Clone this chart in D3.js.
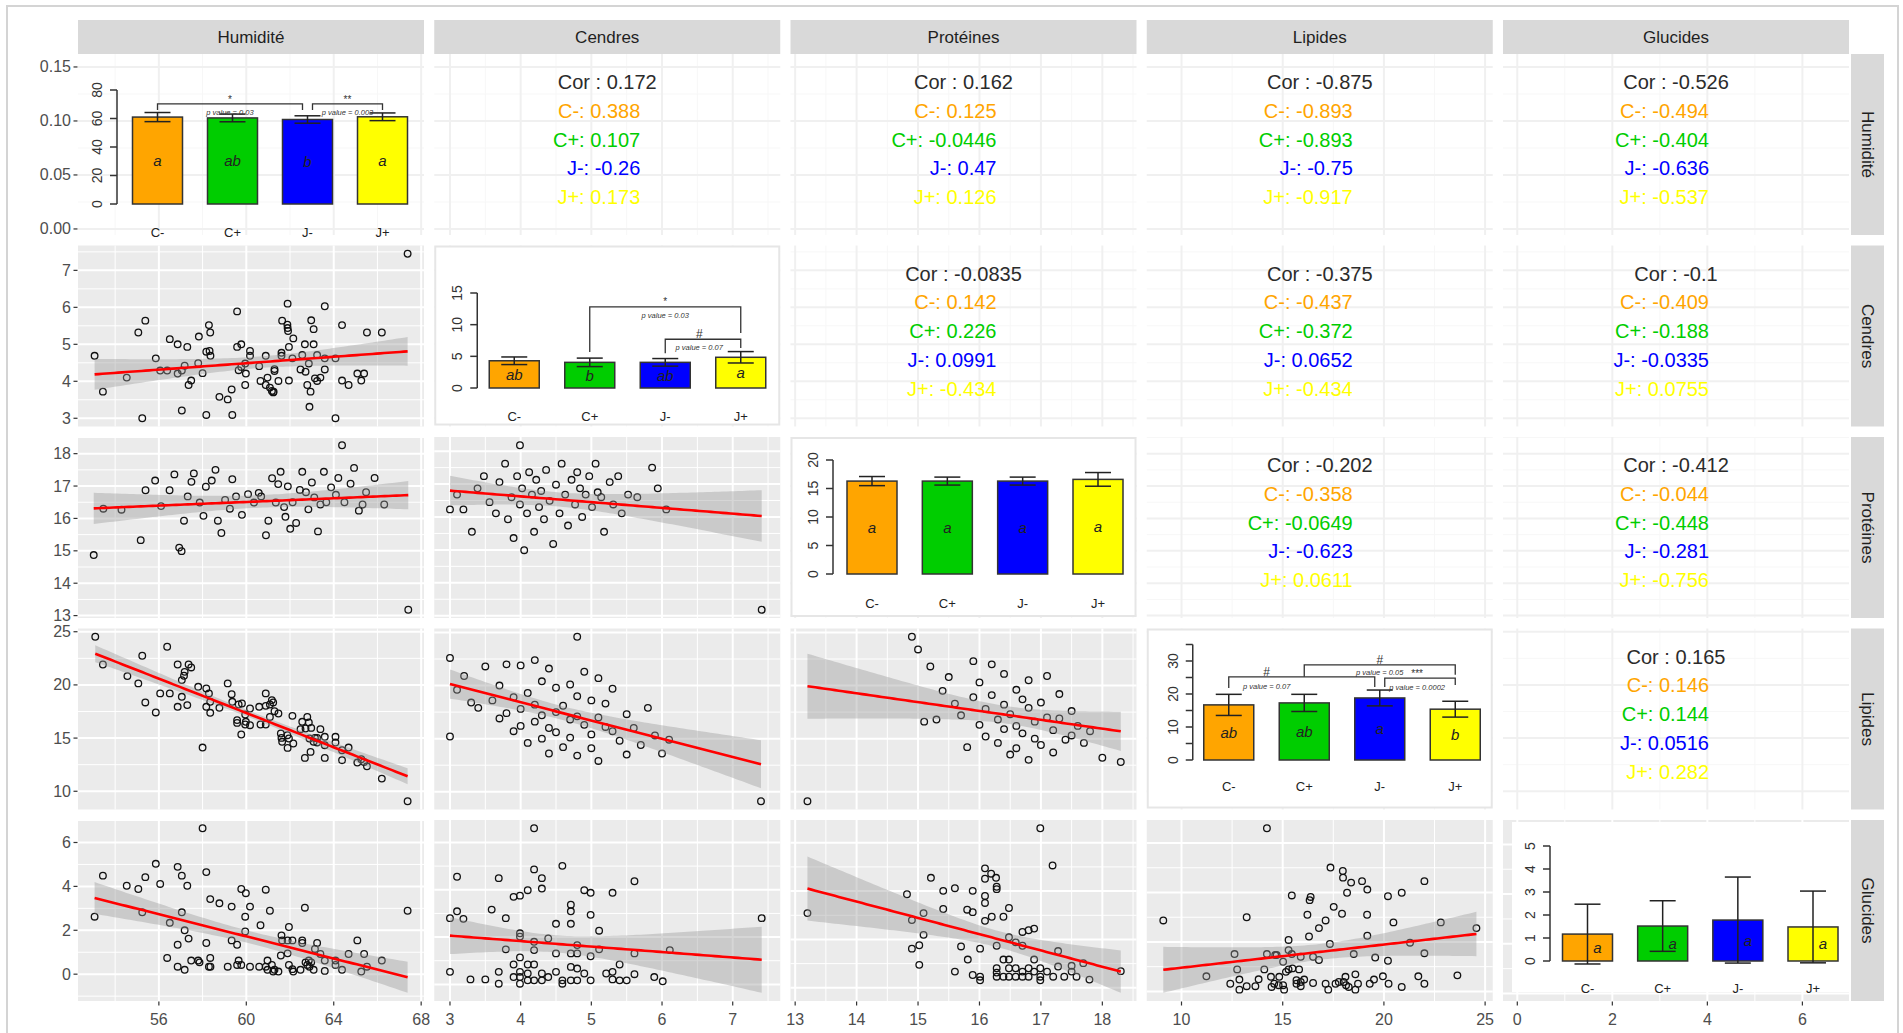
<!DOCTYPE html>
<html><head><meta charset="utf-8">
<script src="https://cdn.jsdelivr.net/npm/d3@7"></script>
<style>body{margin:0;background:#fff;}svg{display:block;font-family:"Liberation Sans",Arial,sans-serif;}</style>
</head><body><svg id="c" width="1903" height="1033"></svg>
<script>
// ---------------- DATA ----------------
const vars = ["Humidité","Cendres","Protéines","Lipides","Glucides"];
const groups = ["C-","C+","J-","J+"];
const groupColors = ["#FFA500","#00CD00","#0000FF","#FFFF00"];
const tickStep = {"Humidité":4,"Cendres":1,"Protéines":1,"Lipides":5,"Glucides":2};
const densityTicks = [0,0.05,0.10,0.15];

// scatter points [x, y]
const hum_cen = [[53.06,4.69],[53.44,3.72],[54.53,4.10],[55.06,5.32],[55.24,3.0],[55.38,5.64],[55.86,4.62],[56.06,4.29],[56.38,4.29],[56.5,5.14],[56.86,5.0],[56.86,4.21],[57.05,3.21],[57.05,4.29],[57.18,4.42],[57.3,4.93],[57.36,3.90],[57.48,4.02],[57.83,5.21],[57.8,4.49],[58.0,4.22],[58.17,3.09],[58.17,4.80],[58.29,5.52],[58.35,5.32],[58.32,4.82],[58.36,4.69],[58.77,3.58],[59.15,3.51],[59.33,3.78],[59.36,3.09],[59.58,5.89],[59.58,4.93],[59.65,4.30],[59.77,5.0],[59.77,4.39],[59.98,4.21],[59.95,3.90],[59.95,4.48],[60.17,4.82],[60.17,4.69],[60.59,4.41],[60.65,4.01],[60.89,4.69],[60.89,3.90],[60.97,4.10],[61.08,3.83],[61.17,3.74],[61.23,3.70],[61.29,4.28],[61.29,4.33],[61.25,3.72],[61.47,4.01],[61.61,4.77],[61.64,5.64],[61.61,4.69],[61.88,5.53],[61.89,5.44],[61.89,6.10],[61.91,5.36],[61.95,4.02],[61.95,4.93],[62.15,5.16],[62.11,4.62],[62.48,4.32],[62.56,4.71],[62.68,5.0],[62.71,4.26],[62.79,3.90],[62.86,4.48],[62.94,3.72],[62.89,3.31],[62.97,5.65],[63.08,5.41],[63.08,5.0],[63.14,4.08],[63.24,4.01],[63.24,4.71],[63.39,4.10],[63.59,6.03],[63.59,4.62],[63.59,4.32],[64.08,4.62],[64.08,3.0],[64.38,5.52],[64.38,4.02],[64.68,3.90],[65.08,4.21],[65.26,4.02],[65.39,4.21],[65.52,5.32],[66.2,5.32],[67.38,7.45]];
const hum_pro = [[53.02,14.87],[53.46,16.30],[54.29,16.27],[55.17,15.33],[55.39,16.87],[55.83,17.17],[56.1,16.38],[56.49,16.87],[56.71,17.36],[56.93,15.1],[57.04,14.99],[57.15,15.93],[57.32,16.68],[57.49,17.13],[57.6,17.39],[57.87,16.49],[58.04,16.08],[58.15,16.98],[58.42,17.17],[58.59,17.5],[58.7,15.93],[58.86,15.55],[59.03,16.57],[59.25,16.3],[59.36,17.21],[59.53,16.68],[59.8,16.11],[60.08,16.75],[60.35,16.49],[60.57,16.79],[60.68,16.68],[60.9,15.48],[61.01,15.93],[61.18,17.24],[61.35,16.49],[61.46,17.06],[61.57,17.44],[61.73,16.35],[61.79,16.05],[61.9,16.99],[62.01,15.68],[62.12,16.5],[62.28,15.86],[62.45,16.88],[62.56,17.44],[62.73,16.81],[62.84,16.28],[63.0,17.11],[63.11,16.65],[63.28,15.6],[63.39,16.43],[63.55,17.44],[63.66,16.5],[63.88,16.96],[64.1,16.73],[64.21,17.25],[64.38,18.26],[64.49,16.5],[64.77,17.07],[64.93,17.56],[65.15,16.24],[65.32,16.43],[65.48,16.81],[65.87,17.25],[66.31,16.43],[67.41,13.18]];
const hum_lip = [[53.09,24.53],[53.44,21.92],[54.56,20.83],[55.06,20.14],[55.24,22.74],[55.38,18.35],[55.86,17.41],[56.06,19.2],[56.38,23.59],[56.5,19.2],[56.86,21.92],[56.86,17.94],[57.05,18.88],[57.05,20.45],[57.18,21.23],[57.15,20.86],[57.3,18.10],[57.36,21.92],[57.48,21.64],[57.8,19.82],[58.0,14.11],[58.17,19.67],[58.17,17.94],[58.29,19.2],[58.35,17.38],[58.35,18.41],[58.77,17.85],[59.15,20.14],[59.33,19.13],[59.36,18.41],[59.58,16.69],[59.58,16.43],[59.65,18.16],[59.77,15.34],[59.8,18.25],[59.98,16.53],[59.95,17.22],[59.95,16.28],[60.17,17.78],[60.17,16.21],[60.59,17.94],[60.65,16.28],[60.89,19.2],[60.89,18.03],[60.89,16.28],[61.08,18.16],[61.17,18.57],[61.23,18.35],[61.29,17.53],[61.47,17.31],[61.08,16.99],[61.58,15.43],[61.61,15.02],[61.64,14.65],[61.88,15.27],[61.89,14.08],[61.95,14.96],[62.11,17.09],[62.15,14.49],[62.48,15.84],[62.56,16.53],[62.68,13.14],[62.71,15.90],[62.79,16.99],[62.86,16.47],[62.89,14.96],[62.94,13.70],[62.97,15.96],[63.08,14.65],[63.14,15.02],[63.24,15.02],[63.24,14.58],[63.39,15.84],[63.59,15.12],[63.59,13.14],[63.59,14.33],[64.08,15.12],[64.08,14.58],[64.38,13.86],[64.38,12.92],[64.68,14.11],[65.08,12.70],[65.26,13.01],[65.39,12.76],[65.52,12.35],[66.2,11.19],[67.38,9.06]];
const hum_glu = [[53.06,2.62],[53.44,4.49],[54.53,4.03],[55.06,3.88],[55.24,2.82],[55.38,4.42],[55.86,5.03],[56.06,4.11],[56.38,0.74],[56.5,2.34],[56.86,4.89],[56.86,1.34],[56.86,0.34],[57.05,4.49],[57.05,2.82],[57.18,2.0],[57.18,0.2],[57.3,4.03],[57.36,1.62],[57.48,0.62],[57.8,0.62],[57.86,0.54],[58.0,6.65],[58.17,4.65],[58.17,1.42],[58.29,0.34],[58.35,0.74],[58.35,3.42],[58.36,0.34],[58.77,3.23],[59.15,0.34],[59.33,3.08],[59.33,1.54],[59.58,1.34],[59.58,0.42],[59.65,0.62],[59.77,3.88],[59.77,0.42],[59.98,3.69],[59.95,2.62],[59.95,1.95],[60.17,3.08],[60.17,0.34],[60.59,0.34],[60.65,2.23],[60.89,3.85],[60.89,0.34],[60.97,0.62],[61.08,2.89],[60.97,0.2],[61.17,0.42],[61.23,0.12],[61.29,0.2],[61.47,0.12],[61.61,1.77],[61.64,1.54],[61.58,0.85],[61.89,1.54],[61.95,2.15],[61.89,0.95],[61.95,0.42],[62.11,1.54],[62.15,0.12],[62.11,0.23],[62.48,0.2],[62.56,1.54],[62.56,1.42],[62.68,3.03],[62.71,0.54],[62.79,0.42],[62.86,0.62],[62.89,0.34],[62.97,0.54],[63.08,0.2],[63.14,1.15],[63.24,1.42],[63.39,0.92],[63.59,0.15],[63.59,0.62],[64.08,0.42],[64.08,0.62],[64.38,0.2],[64.68,0.92],[65.08,1.54],[65.26,0.12],[65.39,0.92],[65.52,0.34],[66.2,0.62],[67.38,2.89]];
const cen_pro = [[3.0,16.23],[3.1,16.68],[3.19,16.23],[3.31,15.55],[3.39,16.87],[3.48,17.24],[3.56,16.45],[3.65,16.11],[3.7,17.06],[3.78,17.62],[3.82,15.93],[3.87,16.6],[3.9,15.36],[3.95,17.24],[3.99,18.18],[3.99,16.38],[4.02,16.87],[4.05,14.99],[4.09,16.11],[4.12,17.36],[4.16,16.68],[4.19,15.55],[4.22,17.13],[4.26,16.3],[4.29,16.79],[4.33,15.93],[4.36,17.43],[4.41,16.49],[4.46,15.18],[4.5,16.98],[4.55,16.11],[4.58,17.62],[4.63,16.68],[4.67,15.74],[4.72,17.13],[4.77,16.38],[4.8,17.36],[4.84,16.87],[4.87,16.0],[4.92,16.68],[4.97,17.24],[5.01,16.3],[5.06,17.62],[5.09,16.75],[5.14,16.6],[5.18,15.55],[5.26,17.06],[5.31,16.38],[5.38,17.24],[5.43,16.11],[5.52,16.68],[5.65,16.6],[5.86,17.5],[5.94,16.87],[6.06,16.23],[7.41,13.18]];
const cen_lip = [[3.0,22.6],[3.0,15.2],[3.1,19.6],[3.2,20.9],[3.3,18.4],[3.4,17.9],[3.5,21.8],[3.6,18.6],[3.7,16.9],[3.7,20.0],[3.8,22.0],[3.8,17.4],[3.9,18.9],[3.9,15.7],[4.0,21.9],[4.0,17.8],[4.0,16.2],[4.1,19.3],[4.1,14.6],[4.2,22.4],[4.2,18.2],[4.2,16.6],[4.3,20.4],[4.3,15.0],[4.3,17.2],[4.4,21.6],[4.4,16.0],[4.4,13.6],[4.5,19.8],[4.5,17.5],[4.5,15.6],[4.6,18.1],[4.6,14.2],[4.7,20.1],[4.7,16.8],[4.7,15.1],[4.8,24.6],[4.8,19.0],[4.8,17.1],[4.8,13.4],[4.9,21.3],[4.9,16.3],[5.0,18.6],[5.0,15.4],[5.0,14.1],[5.1,20.7],[5.1,17.0],[5.1,12.9],[5.2,16.1],[5.2,18.3],[5.3,15.7],[5.3,19.7],[5.4,14.8],[5.5,17.3],[5.5,13.5],[5.6,16.0],[5.7,14.4],[5.8,17.9],[5.9,15.3],[6.0,13.6],[6.1,14.9],[7.4,9.1]];
const cen_glu = [[3.0,2.80],[3.0,0.53],[3.1,4.55],[3.1,3.09],[3.19,2.77],[3.29,0.21],[3.5,0.21],[3.59,3.16],[3.69,4.49],[3.69,0.53],[3.69,0.03],[3.79,2.80],[3.79,1.48],[3.9,3.70],[3.9,0.84],[3.9,0.31],[3.99,3.75],[3.99,2.16],[3.99,2.02],[3.99,1.14],[3.99,0.53],[3.99,0.31],[3.99,0.03],[4.1,3.98],[4.1,0.84],[4.1,0.46],[4.1,0.17],[4.19,6.6],[4.19,4.86],[4.19,1.80],[4.19,1.45],[4.19,0.84],[4.19,0.17],[4.3,4.49],[4.3,4.05],[4.3,0.46],[4.3,0.17],[4.39,1.94],[4.39,0.31],[4.5,2.56],[4.5,1.31],[4.5,0.53],[4.59,5.01],[4.59,0.17],[4.59,0.03],[4.71,3.37],[4.71,3.09],[4.71,2.56],[4.71,1.31],[4.71,0.74],[4.71,0.17],[4.8,1.66],[4.8,1.31],[4.8,0.67],[4.8,0.17],[4.9,3.98],[4.9,0.46],[4.99,3.87],[4.99,2.94],[4.99,1.19],[4.99,0.17],[5.11,2.27],[5.11,1.48],[5.21,0.46],[5.3,3.87],[5.3,0.53],[5.3,0.21],[5.4,0.84],[5.4,0.17],[5.5,0.17],[5.61,4.36],[5.61,1.31],[5.61,0.43],[5.89,0.31],[6.01,0.13],[6.11,1.45],[7.41,2.80]];
const pro_lip = [[13.2,9.1],[14.9,24.6],[15.0,23.4],[15.1,16.6],[15.2,21.8],[15.3,16.8],[15.4,19.5],[15.5,20.8],[15.6,18.3],[15.7,17.2],[15.8,14.2],[15.9,22.3],[15.9,18.9],[16.0,16.3],[16.0,20.3],[16.1,17.8],[16.1,15.2],[16.2,22.0],[16.2,19.1],[16.3,16.8],[16.3,14.6],[16.4,21.1],[16.4,18.2],[16.4,15.9],[16.5,17.3],[16.5,13.5],[16.6,19.6],[16.6,16.2],[16.6,14.1],[16.7,18.7],[16.7,15.5],[16.8,17.9],[16.8,20.5],[16.8,13.0],[16.9,16.6],[16.9,15.0],[17.0,18.4],[17.0,14.4],[17.1,17.0],[17.1,20.9],[17.2,15.8],[17.2,13.7],[17.3,16.9],[17.3,19.2],[17.4,14.9],[17.5,17.6],[17.5,15.3],[17.6,16.2],[17.7,14.6],[17.8,15.7],[18.0,13.2],[18.3,12.8]];
const pro_glu = [[13.2,3.09],[14.82,3.87],[14.9,2.80],[14.9,1.62],[15.02,0.95],[15.02,1.76],[15.09,3.09],[15.09,2.19],[15.21,4.55],[15.41,4.01],[15.41,3.26],[15.6,4.12],[15.6,0.67],[15.7,1.71],[15.8,3.23],[15.81,1.17],[15.89,3.13],[15.89,4.01],[15.89,0.53],[16.01,1.62],[16.01,0.46],[16.01,0.31],[16.09,4.94],[16.09,4.51],[16.09,3.80],[16.09,3.51],[16.09,2.77],[16.19,4.72],[16.2,2.94],[16.27,4.55],[16.28,4.18],[16.28,4.08],[16.28,1.74],[16.28,0.81],[16.28,0.63],[16.28,0.46],[16.39,2.94],[16.39,1.17],[16.39,0.46],[16.48,3.30],[16.48,2.09],[16.48,1.17],[16.48,0.81],[16.48,0.46],[16.59,1.88],[16.59,0.81],[16.59,0.46],[16.7,2.31],[16.7,1.74],[16.7,0.67],[16.7,0.46],[16.8,2.38],[16.8,0.81],[16.8,0.46],[16.89,2.45],[16.89,1.17],[16.89,0.67],[16.99,6.6],[16.99,0.81],[16.99,0.46],[16.99,0.31],[17.1,0.67],[17.19,5.06],[17.2,0.46],[17.28,1.52],[17.28,0.88],[17.38,0.46],[17.5,0.67],[17.5,0.91],[17.58,0.46],[17.69,1.02],[17.79,0.34],[18.3,0.69]];
const lip_glu = [[9.1,2.87],[11.23,0.61],[12.41,0.31],[12.62,1.51],[12.75,0.89],[12.86,0.48],[12.86,0.07],[13.22,0.21],[13.22,3.0],[13.65,0.21],[13.81,0.49],[14.09,0.89],[14.22,6.6],[14.22,1.51],[14.42,0.59],[14.45,0.18],[14.58,0.31],[14.63,1.47],[14.7,1.47],[14.8,0.25],[14.83,0.59],[15.02,1.2],[15.02,0.25],[15.07,0.07],[15.16,0.79],[15.29,2.08],[15.29,1.67],[15.29,0.89],[15.45,3.88],[15.45,1.51],[15.48,0.93],[15.68,0.45],[15.68,0.31],[15.81,0.89],[15.89,1.4],[15.89,0.38],[15.89,0.21],[16.06,0.48],[16.22,3.1],[16.3,2.22],[16.33,3.69],[16.38,3.82],[16.5,1.4],[16.5,0.34],[16.79,2.56],[16.79,1.27],[17.12,2.87],[17.12,0.31],[17.25,0.07],[17.33,1.92],[17.36,5.01],[17.52,3.42],[17.61,0.31],[17.77,0.38],[17.93,3.14],[17.97,4.87],[17.98,4.6],[18.01,0.38],[18.1,0.59],[18.13,0.25],[18.18,3.99],[18.26,0.18],[18.38,4.4],[18.51,1.51],[18.59,0.69],[18.59,0.07],[18.72,0.31],[18.92,4.46],[19.17,3.1],[19.18,4.12],[19.18,2.25],[19.3,0.31],[19.51,0.48],[19.57,1.37],[19.95,0.61],[20.2,3.85],[20.2,1.24],[20.23,0.31],[20.47,2.79],[20.88,3.99],[20.88,0.18],[21.29,1.97],[21.7,0.61],[22.0,4.46],[22.0,1.54],[22.0,0.31],[22.81,2.79],[23.63,0.65],[24.57,2.56]];

// group means / sd for the diagonal bar plots
const humMean = [61.0,60.4,59.3,61.2], humSd = [3.2,2.7,2.6,2.7], humLetters = ["a","ab","b","a"];
const cenMean = [4.3,4.05,4.05,4.85], cenSd = [0.6,0.67,0.6,0.9], cenLetters = ["ab","b","ab","a"];
const proMean = [16.3,16.3,16.3,16.6], proSd = [0.8,0.7,0.7,1.2], proLetters = ["a","a","a","a"];
const lipMean = [16.7,17.3,18.8,15.4], lipSd = [3.2,2.6,2.4,2.4], lipLetters = ["ab","ab","a","b"];
const gluMean = [1.17,1.52,1.78,1.48], gluSd = [1.3,1.1,1.87,1.56], gluLetters = ["a","a","a","a"];
// significance brackets (heights in bar-axis units)
const humSig = [{a:0,b:2,bo:-5,yl:66,top:70.2,yr:66,mark:"*",markY:73.6,p:"p value = 0.03",pY:64,t:0.5},
                {a:2,b:3,ao:5,yl:66,top:70.2,yr:66,mark:"**",markY:73.6,p:"p value = 0.003",pY:64,t:0.5}];
const cenSig = [{a:1,b:3,yl:5.7,top:12.8,yr:8.7,mark:"*",markY:13.7,p:"p value = 0.03",pY:11.4,t:0.5},
                {a:2,b:3,yl:5.5,top:7.7,yr:6.3,mark:"#",markY:8.6,p:"p value = 0.07",pY:6.4,t:0.45}];
const proSig = [];
const lipSig = [{a:0,b:2,bo:-5,yl:21.8,top:25.2,yr:22.1,mark:"#",markY:26.6,p:"p value = 0.07",pY:22.2,t:0.26},
                {a:1,b:3,yl:25.2,top:28.8,yr:25.8,mark:"#",markY:30.3,p:"p value = 0.05",pY:26.4,t:0.5},
                {a:2,b:3,ao:5,yl:22.1,top:24.8,yr:22.7,mark:"***",markY:26.3,p:"p value = 0.0002",pY:22.1,t:0.46}];
const gluSig = [];

// correlations for the upper panels: [overall, C-, C+, J-, J+]
const corHumCen = [0.172,0.388,0.107,-0.26,0.173];
const corHumPro = [0.162,0.125,-0.0446,0.47,0.126];
const corHumLip = [-0.875,-0.893,-0.893,-0.75,-0.917];
const corHumGlu = [-0.526,-0.494,-0.404,-0.636,-0.537];
const corCenPro = [-0.0835,0.142,0.226,0.0991,-0.434];
const corCenLip = [-0.375,-0.437,-0.372,0.0652,-0.434];
const corCenGlu = [-0.1,-0.409,-0.188,-0.0335,0.0755];
const corProLip = [-0.202,-0.358,-0.0649,-0.623,0.0611];
const corProGlu = [-0.412,-0.044,-0.448,-0.281,-0.756];
const corLipGlu = [0.165,0.146,0.144,0.0516,0.282];

// ---------------- LAYOUT ----------------
const P = {x0:78, cs:356.25, w:346, y0:54, rs:191.5, h:181};
const px = j => P.x0 + j*P.cs, py = i => P.y0 + i*P.rs;
const svg = d3.select("#c");
const lower = {"1,0":hum_cen,"2,0":hum_pro,"3,0":hum_lip,"4,0":hum_glu,"2,1":cen_pro,"3,1":cen_lip,"4,1":cen_glu,"3,2":pro_lip,"4,2":pro_glu,"4,3":lip_glu};
const upper = {"0,1":corHumCen,"0,2":corHumPro,"0,3":corHumLip,"0,4":corHumGlu,"1,2":corCenPro,"1,3":corCenLip,"1,4":corCenGlu,"2,3":corProLip,"2,4":corProGlu,"3,4":corLipGlu};

const varVals = vars.map(()=>[]);
Object.entries(lower).forEach(([k,arr])=>{const [i,j]=k.split(",").map(Number);arr.forEach(d=>{varVals[j].push(d[0]);varVals[i].push(d[1]);});});
const varExt = varVals.map(v=>d3.extent(v));
const expand = e => {const d=e[1]-e[0];return [e[0]-0.05*d,e[1]+0.05*d];};
const xDom = varExt.map(expand);

function gridVals(dom, step){
  const maj=[],min=[];
  for(let k=Math.floor(dom[0]/step)-1;k<=Math.ceil(dom[1]/step)+1;k++){
    const v=+(k*step).toFixed(6), m=+(k*step+step/2).toFixed(6);
    if(v>=dom[0]&&v<=dom[1]) maj.push(v);
    if(m>=dom[0]&&m<=dom[1]) min.push(m);
  }
  return {maj,min};
}
function regress(pts){
  const n=pts.length,mx=d3.mean(pts,d=>d[0]),my=d3.mean(pts,d=>d[1]);
  let sxx=0,sxy=0;pts.forEach(([x,y])=>{sxx+=(x-mx)**2;sxy+=(x-mx)*(y-my);});
  const b=sxy/sxx,a=my-b*mx;let sse=0;pts.forEach(([x,y])=>{sse+=(y-a-b*x)**2;});
  const df=n-2,s=Math.sqrt(sse/df),t=1.96+2.5/df;
  const [x0,x1]=d3.extent(pts,d=>d[0]);
  return d3.range(81).map(k=>{const x=x0+(x1-x0)*k/80,y=a+b*x,se=s*Math.sqrt(1/n+(x-mx)**2/sxx);return {x,y,lo:y-t*se,hi:y+t*se};});
}

svg.append("rect").attr("x",7).attr("y",6).attr("width",1891).attr("height",1060).attr("fill","none").attr("stroke","#d4d4d4").attr("stroke-width",2);

const yScales = {}, xScales = {};
function drawGrid(g, xs, ys, xStep, yStep, light){
  const gx=gridVals(xs.domain(),xStep), gy=gridVals(ys.domain(),yStep);
  const cMin = light?"#f7f7f7":"#ffffff", cMaj = light?"#f0f0f0":"#ffffff";
  gx.min.forEach(v=>g.append("line").attr("x1",xs(v)).attr("x2",xs(v)).attr("y1",0).attr("y2",P.h).attr("stroke",cMin).attr("stroke-width",1));
  gy.min.forEach(v=>g.append("line").attr("y1",ys(v)).attr("y2",ys(v)).attr("x1",0).attr("x2",P.w).attr("stroke",cMin).attr("stroke-width",1));
  gx.maj.forEach(v=>g.append("line").attr("x1",xs(v)).attr("x2",xs(v)).attr("y1",0).attr("y2",P.h).attr("stroke",cMaj).attr("stroke-width",2));
  gy.maj.forEach(v=>g.append("line").attr("y1",ys(v)).attr("y2",ys(v)).attr("x1",0).attr("x2",P.w).attr("stroke",cMaj).attr("stroke-width",2));
}

Object.entries(lower).forEach(([k,pts])=>{
  const [i,j]=k.split(",").map(Number);
  const fit=regress(pts);
  const yExt=d3.extent([...pts.map(d=>d[1]),...fit.map(d=>d.lo),...fit.map(d=>d.hi)]);
  const xs=d3.scaleLinear().domain(xDom[j]).range([0,P.w]);
  const ys=d3.scaleLinear().domain(expand(yExt)).range([P.h,0]);
  if(j===0) yScales[i]=ys;
  if(i===4) xScales[j]=xs;
  const g=svg.append("g").attr("transform",`translate(${px(j)},${py(i)})`);
  g.append("rect").attr("width",P.w).attr("height",P.h).attr("fill","#EBEBEB");
  drawGrid(g,xs,ys,tickStep[vars[j]],tickStep[vars[i]],false);
  g.selectAll("circle").data(pts).join("circle").attr("cx",d=>xs(d[0])).attr("cy",d=>ys(d[1])).attr("r",3.3)
    .attr("fill","none").attr("stroke","#111").attr("stroke-width",1.3);
  g.append("path").attr("d",d3.area().x(d=>xs(d.x)).y0(d=>ys(d.lo)).y1(d=>ys(d.hi))(fit)).attr("fill","#999999").attr("fill-opacity",0.4);
  g.append("path").attr("d",d3.line().x(d=>xs(d.x)).y(d=>ys(d.y))(fit)).attr("fill","none").attr("stroke","#FF0000").attr("stroke-width",2.6);
});
xScales[4]=d3.scaleLinear().domain(xDom[4]).range([0,P.w]);
const densScale=d3.scaleLinear().domain([-0.0056,0.162]).range([P.h,0]);
yScales[0]=densScale;

Object.entries(upper).forEach(([k,vals])=>{
  const [i,j]=k.split(",").map(Number);
  const g=svg.append("g").attr("transform",`translate(${px(j)},${py(i)})`);
  g.append("rect").attr("width",P.w).attr("height",P.h).attr("fill","#fff");
  drawGrid(g,xScales[j],yScales[i],tickStep[vars[j]],i===0?0.05:tickStep[vars[i]],true);
  const cx=P.w/2;
  g.append("text").attr("x",cx).attr("y",28).attr("text-anchor","middle").attr("dominant-baseline","central")
    .attr("font-size",20).attr("fill","#2b2b2b").text("Cor : "+String(vals[0]));
  groups.forEach((gr,m)=>{
    g.append("text").attr("x",cx+33).attr("y",28+(m+1)*28.8).attr("text-anchor","end").attr("dominant-baseline","central")
      .attr("font-size",20).attr("fill",groupColors[m]).text(gr+": "+String(vals[m+1]));
  });
});

const barCfg = [
  {mean:humMean,sd:humSd,let:humLetters,sig:humSig,max:80,ticks:[0,20,40,60,80],lab:[0,20,40,60,80],ax:39,y0:150,yTop:36,c:[79.5,304.5],lab_y:178,ldx:0},
  {mean:cenMean,sd:cenSd,let:cenLetters,sig:cenSig,max:15,ticks:[0,5,10,15],lab:[0,5,10,15],ax:43,y0:142.5,yTop:47.5,c:[80,306.5],lab_y:170.5,ldx:0},
  {mean:proMean,sd:proSd,let:proLetters,sig:proSig,max:20,ticks:[0,5,10,15,20],lab:[0,5,10,15,20],ax:42.5,y0:137,yTop:23,c:[81.5,307.5],lab_y:166,ldx:0},
  {mean:lipMean,sd:lipSd,let:lipLetters,sig:lipSig,max:35,ticks:[0,5,10,15,20,25,30,35],lab:[0,10,20,30],ax:46,y0:131.5,yTop:16,c:[82,308.5],lab_y:157.5,ldx:0},
  {mean:gluMean,sd:gluSd,let:gluLetters,sig:gluSig,max:5,ticks:[0,1,2,3,4,5],lab:[0,1,2,3,4,5],ax:47,y0:141,yTop:26,c:[84.5,310],lab_y:168,ldx:10}
];
barCfg.forEach((cfg,i)=>{
  const g=svg.append("g").attr("transform",`translate(${px(i)},${py(i)})`);
  if(i<4){
    g.append("rect").attr("width",P.w).attr("height",P.h).attr("fill","#fff");
    drawGrid(g,xScales[i],yScales[i],tickStep[vars[i]],i===0?0.05:tickStep[vars[i]],true);
    if(i>0) g.append("rect").attr("x",1).attr("y",1).attr("width",P.w-2).attr("height",P.h-3).attr("fill","#fff").attr("stroke","#e6e6e6").attr("stroke-width",2);
  } else {
    g.append("rect").attr("width",P.w).attr("height",P.h).attr("fill","#EBEBEB");
    drawGrid(g,xScales[4],d3.scaleLinear().domain(xDom[4]).range([P.h,0]),2,2,false);
    g.append("rect").attr("x",9).attr("y",2).attr("width",P.w-9).attr("height",P.h-11).attr("fill","#fff");
  }
  const y=d3.scaleLinear().domain([0,cfg.max]).range([cfg.y0,cfg.yTop]);
  const x=d3.scalePoint().domain(groups).range(cfg.c);
  const bw=50, cap=13;
  g.append("line").attr("x1",cfg.ax).attr("x2",cfg.ax).attr("y1",y(0)).attr("y2",y(cfg.max)).attr("stroke","#333").attr("stroke-width",1.5);
  cfg.ticks.forEach(t=>g.append("line").attr("x1",cfg.ax-7).attr("x2",cfg.ax).attr("y1",y(t)).attr("y2",y(t)).attr("stroke","#333").attr("stroke-width",1.5));
  cfg.lab.forEach(t=>g.append("text").attr("transform",`translate(${cfg.ax-20},${y(t)}) rotate(-90)`).attr("text-anchor","middle")
      .attr("dominant-baseline","central").attr("font-size",14).attr("fill","#333").text(t));
  groups.forEach((gr,m)=>{
    const cx=x(gr);
    g.append("rect").attr("x",cx-bw/2).attr("y",y(cfg.mean[m])).attr("width",bw).attr("height",y(0)-y(cfg.mean[m]))
      .attr("fill",groupColors[m]).attr("stroke","#333").attr("stroke-width",1.5);
    const lo=cfg.mean[m]-cfg.sd[m], hi=cfg.mean[m]+cfg.sd[m];
    g.append("line").attr("x1",cx).attr("x2",cx).attr("y1",y(lo)).attr("y2",y(hi)).attr("stroke","#222").attr("stroke-width",1.5);
    [lo,hi].forEach(v=>g.append("line").attr("x1",cx-cap).attr("x2",cx+cap).attr("y1",y(v)).attr("y2",y(v)).attr("stroke","#222").attr("stroke-width",1.5));
    g.append("text").attr("x",cx+cfg.ldx).attr("y",y(cfg.mean[m]/2)).attr("text-anchor","middle").attr("dominant-baseline","central")
      .attr("font-size",15).attr("font-style","italic").attr("fill","#222").text(cfg.let[m]);
    g.append("text").attr("x",cx).attr("y",cfg.lab_y).attr("text-anchor","middle").attr("dominant-baseline","central")
      .attr("font-size",13).attr("fill","#222").text(gr);
  });
  cfg.sig.forEach(s=>{
    const xa=x(groups[s.a])+(s.ao||0), xb=x(groups[s.b])+(s.bo||0);
    g.append("path").attr("d",`M${xa},${y(s.yl)}V${y(s.top)}H${xb}V${y(s.yr)}`).attr("fill","none").attr("stroke","#333").attr("stroke-width",1.3);
    const xm=xa+(xb-xa)*s.t;
    g.append("text").attr("x",xm).attr("y",y(s.markY)).attr("text-anchor","middle").attr("dominant-baseline","central")
      .attr("font-size",s.mark==="#"?12:10).attr("fill","#333").text(s.mark);
    g.append("text").attr("x",xm).attr("y",y(s.pY)).attr("text-anchor","middle").attr("dominant-baseline","central")
      .attr("font-size",7.5).attr("font-style","italic").attr("fill","#333").text(s.p);
  });
});

vars.forEach((v,j)=>{
  svg.append("rect").attr("x",px(j)).attr("y",20).attr("width",P.w).attr("height",34).attr("fill","#D9D9D9");
  svg.append("text").attr("x",px(j)+P.w/2).attr("y",37).attr("text-anchor","middle").attr("dominant-baseline","central")
    .attr("font-size",17).attr("fill","#1f1f1f").text(v);
  svg.append("rect").attr("x",1851).attr("y",py(j)).attr("width",33).attr("height",P.h).attr("fill","#D9D9D9");
  svg.append("text").attr("transform",`translate(${1867.5},${py(j)+P.h/2}) rotate(90)`).attr("text-anchor","middle").attr("dominant-baseline","central")
    .attr("font-size",17).attr("fill","#1f1f1f").text(v);
});

for(let i=0;i<5;i++){
  const ys=yScales[i];
  const ticks = i===0?densityTicks:gridVals(ys.domain(),tickStep[vars[i]]).maj;
  ticks.forEach(t=>{
    svg.append("line").attr("x1",73.5).attr("x2",77.5).attr("y1",py(i)+ys(t)).attr("y2",py(i)+ys(t)).attr("stroke","#333").attr("stroke-width",1.2);
    svg.append("text").attr("x",71).attr("y",py(i)+ys(t)).attr("text-anchor","end").attr("dominant-baseline","central")
      .attr("font-size",16).attr("fill","#4D4D4D").text(i===0?d3.format(".2f")(t):t);
  });
}
for(let j=0;j<5;j++){
  const xs=xScales[j];
  gridVals(xs.domain(),tickStep[vars[j]]).maj.forEach(t=>{
    svg.append("line").attr("x1",px(j)+xs(t)).attr("x2",px(j)+xs(t)).attr("y1",1001.5).attr("y2",1005.5).attr("stroke","#333").attr("stroke-width",1.2);
    svg.append("text").attr("x",px(j)+xs(t)).attr("y",1019).attr("text-anchor","middle").attr("dominant-baseline","central")
      .attr("font-size",16).attr("fill","#4D4D4D").text(t);
  });
}
</script></body></html>
